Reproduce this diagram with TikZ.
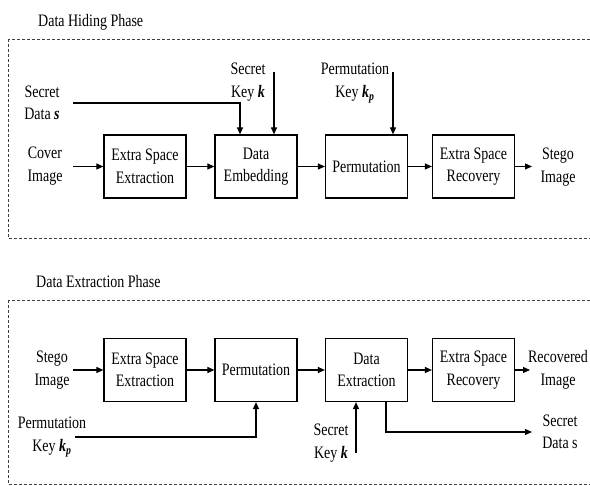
\documentclass[tikz,border=0pt]{standalone}
\usepackage{fontspec}
\setmainfont[FakeStretch=0.8]{Liberation Serif}
\usetikzlibrary{arrows.meta}
\begin{document}
\begin{tikzpicture}[x=1pt,y=-1pt,
  font=\fontsize{17.5}{22.5}\selectfont,
  blk/.style={draw,line width=1.2pt,minimum width=82pt,minimum height=63pt,align=center,inner sep=0pt},
  lbl/.style={align=center,inner sep=0pt},
  conn/.style={line width=1.1pt,-{Triangle[length=7pt,width=6pt]}},
  line/.style={line width=1.1pt},
  phase/.style={draw=black!75,line width=0.8pt,dash pattern=on 3pt off 2pt}]
\useasboundingbox (0,0) rectangle (590,486);
\clip (0,0) rectangle (590,486);
% panels
\draw[phase] (8,39) rectangle (600,238);
\draw[phase] (8,300) rectangle (600,484);
\node[anchor=west,inner sep=0pt] (t1) at (38,22) {Data Hiding Phase};
\node[anchor=west,inner sep=0pt] (t2) at (36,282) {Data Extraction Phase};
% top boxes
\node[blk] (a1) at (145,166.5) {Extra Space\\Extraction};
\node[blk] (a2) at (256,166.5) {Data\\Embedding};
\node[blk] (a3) at (366.5,166.5) {Permutation};
\node[blk] (a4) at (473.5,166.5) {Extra Space\\Recovery};
\node[lbl] (cover) at (45,166) {Cover\\Image};
\node[lbl] (sd) at (42,103) {Secret\\Data \textbf{\textit{s}}};
\node[lbl] (sk) at (248,82) {Secret\\Key \textbf{\textit{k}}};
\node[lbl] (pk) at (355,83) {Permutation\\Key \textbf{\textit{k\textsubscript{p}}}};
\node[lbl] (stego) at (558,167) {Stego\\Image};
\coordinate (c1) at (73,166.5);
\coordinate (c2) at (73,103);
\coordinate (c3) at (240,103);
\coordinate (c4) at (274,72);
\coordinate (c5) at (393,72);
\coordinate (c6) at (532,166.5);
\draw[conn] (c1) -- (a1.west);
\draw[conn] (a1) -- (a2);
\draw[conn] (a2) -- (a3);
\draw[conn] (a3) -- (a4);
\draw[conn] (a4.east) -- (c6);
\draw[conn] (c2) -- (c3) -- (c3 |- a2.north);
\draw[conn] (c4) -- (c4 |- a2.north);
\draw[conn] (c5) -- (c5 |- a3.north);
% bottom boxes
\node[blk] (b1) at (145,370) {Extra Space\\Extraction};
\node[blk] (b2) at (256,370) {Permutation};
\node[blk] (b3) at (366.5,370) {Data\\Extraction};
\node[blk] (b4) at (473.5,370) {Extra Space\\Recovery};
\node[lbl] (stego2) at (52,370) {Stego\\Image};
\node[lbl] (rec) at (558,370) {Recovered\\Image};
\node[lbl] (pk2) at (52,437) {Permutation\\Key \textbf{\textit{k\textsubscript{p}}}};
\node[lbl] (sk2) at (331,443) {Secret\\Key \textbf{\textit{k}}};
\node[lbl] (sd2) at (560,432) {Secret\\Data s};
\coordinate (d1) at (73,370);
\coordinate (d2) at (75,437);
\coordinate (d3) at (256,437);
\coordinate (d4) at (356,453);
\coordinate (d5) at (386,432);
\coordinate (d6) at (532,432);
\coordinate (d7) at (530,370);
\draw[conn] (d1) -- (b1.west);
\draw[conn] (b1) -- (b2);
\draw[conn] (b2) -- (b3);
\draw[conn] (b3) -- (b4);
\draw[conn] (b4.east) -- (d7);
\draw[conn] (d2) -- (d3) -- (b2.south);
\draw[conn] (d4) -- (d4 |- b3.south);
\draw[conn] (d5 |- b3.south) -- (d5) -- (d6);
\end{tikzpicture}
\end{document}
